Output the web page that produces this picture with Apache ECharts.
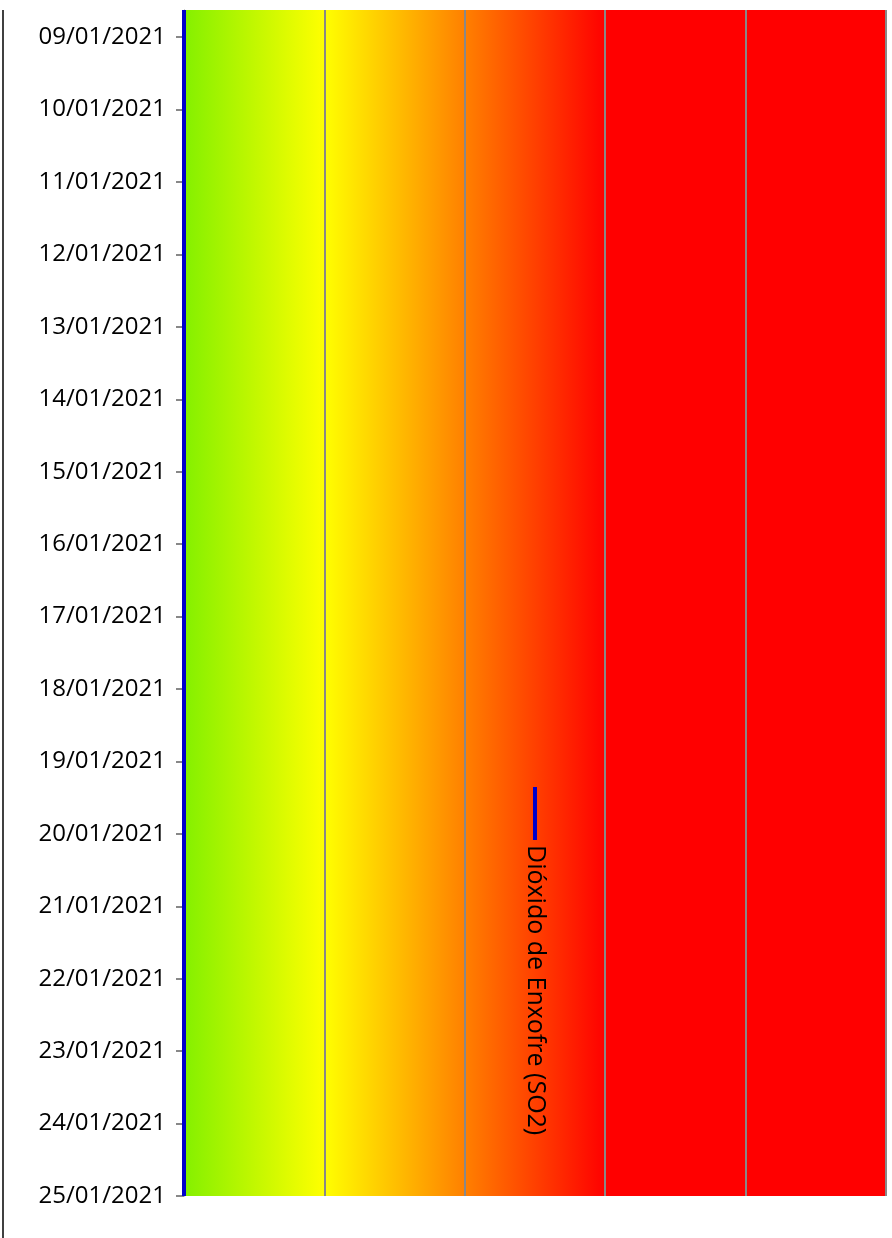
<!DOCTYPE html>
<html>
<head>
<meta charset="utf-8">
<script src="https://cdn.jsdelivr.net/npm/echarts@6/dist/echarts.min.js"></script>
<style>
html,body{margin:0;padding:0;background:#fff;}
#chart{width:892px;height:1238px;}
</style>
</head>
<body>
<div id="chart"></div>
<script>
// Data
var seriesName = 'Dióxido de Enxofre (SO2)';
var times = ['2021-01-08 15:00','2021-01-09 00:00','2021-01-10 00:00','2021-01-11 00:00','2021-01-12 00:00',
  '2021-01-13 00:00','2021-01-14 00:00','2021-01-15 00:00','2021-01-16 00:00','2021-01-17 00:00',
  '2021-01-18 00:00','2021-01-19 00:00','2021-01-20 00:00','2021-01-21 00:00','2021-01-22 00:00',
  '2021-01-23 00:00','2021-01-24 00:00','2021-01-25 00:00'];
var so2Values = [0,0,0,0,0,0,0,0,0,0,0,0,0,0,0,0,0,0];
var axisMinTime = '2021-01-08 15:00';
var axisMaxTime = '2021-01-25 00:00';
var valueMin = 0;
var valueMax = 5;
var valueInterval = 1;

var chart = echarts.init(document.getElementById('chart'), null, {renderer:'canvas'});
var FONT = '"Open Sans", "Liberation Sans", sans-serif';
var pts = times.map(function(t, i){ return [so2Values[i], t]; });

var option = {
  animation: false,
  backgroundColor: '#ffffff',
  grid: {
    left: 184, right: 6, top: 10, bottom: 42,
    show: true, borderWidth: 0,
    backgroundColor: new echarts.graphic.LinearGradient(0, 0, 1, 0, [
      {offset: 0, color: '#84f000'},
      {offset: 0.2, color: '#ffff00'},
      {offset: 0.4, color: '#ff8000'},
      {offset: 0.6, color: '#ff0000'},
      {offset: 1, color: '#ff0000'}
    ])
  },
  xAxis: {
    type: 'value', min: valueMin, max: valueMax, interval: valueInterval,
    axisLine: {show: false}, axisTick: {show: false}, axisLabel: {show: false},
    splitLine: {show: true, lineStyle: {color: '#888888', width: 2}}
  },
  yAxis: {
    type: 'time', inverse: true,
    min: axisMinTime, max: axisMaxTime,
    minInterval: 86400000, maxInterval: 86400000,
    axisLine: {show: true, lineStyle: {color: '#888888', width: 1}},
    axisTick: {show: true, length: 8, lineStyle: {color: '#888888', width: 2}},
    axisLabel: {
      show: true, margin: 18, color: '#000', fontSize: 24, fontFamily: FONT,
      formatter: function(v){
        var d = new Date(v);
        var dd = ('0'+d.getDate()).slice(-2), mm = ('0'+(d.getMonth()+1)).slice(-2);
        return dd + '/' + mm + '/' + d.getFullYear();
      },
      showMinLabel: false,
      showMaxLabel: true,
      hideOverlap: false
    },
    splitLine: {show: false}
  },
  series: [{
    name: seriesName, type: 'line', data: pts,
    showSymbol: false, symbol: 'none',
    lineStyle: {color: '#0000cc', width: 4},
    itemStyle: {color: '#0000cc'}
  }],
  graphic: [
    {type: 'line', shape: {x1: 3, y1: 10, x2: 3, y2: 1238}, style: {stroke: '#404040', lineWidth: 2}, silent: true},
    {
      type: 'group', x: 535, y: 787, rotation: -Math.PI/2,
      children: [
        {type: 'line', shape: {x1: 0, y1: 0, x2: 53, y2: 0}, style: {stroke: '#0000cc', lineWidth: 4}},
        {type: 'text', x: 58, y: 0, style: {text: seriesName, fill: '#000', font: '25px ' + FONT, textAlign: 'left', textVerticalAlign: 'middle'}}
      ]
    }
  ]
};
chart.setOption(option);
</script>
</body>
</html>
